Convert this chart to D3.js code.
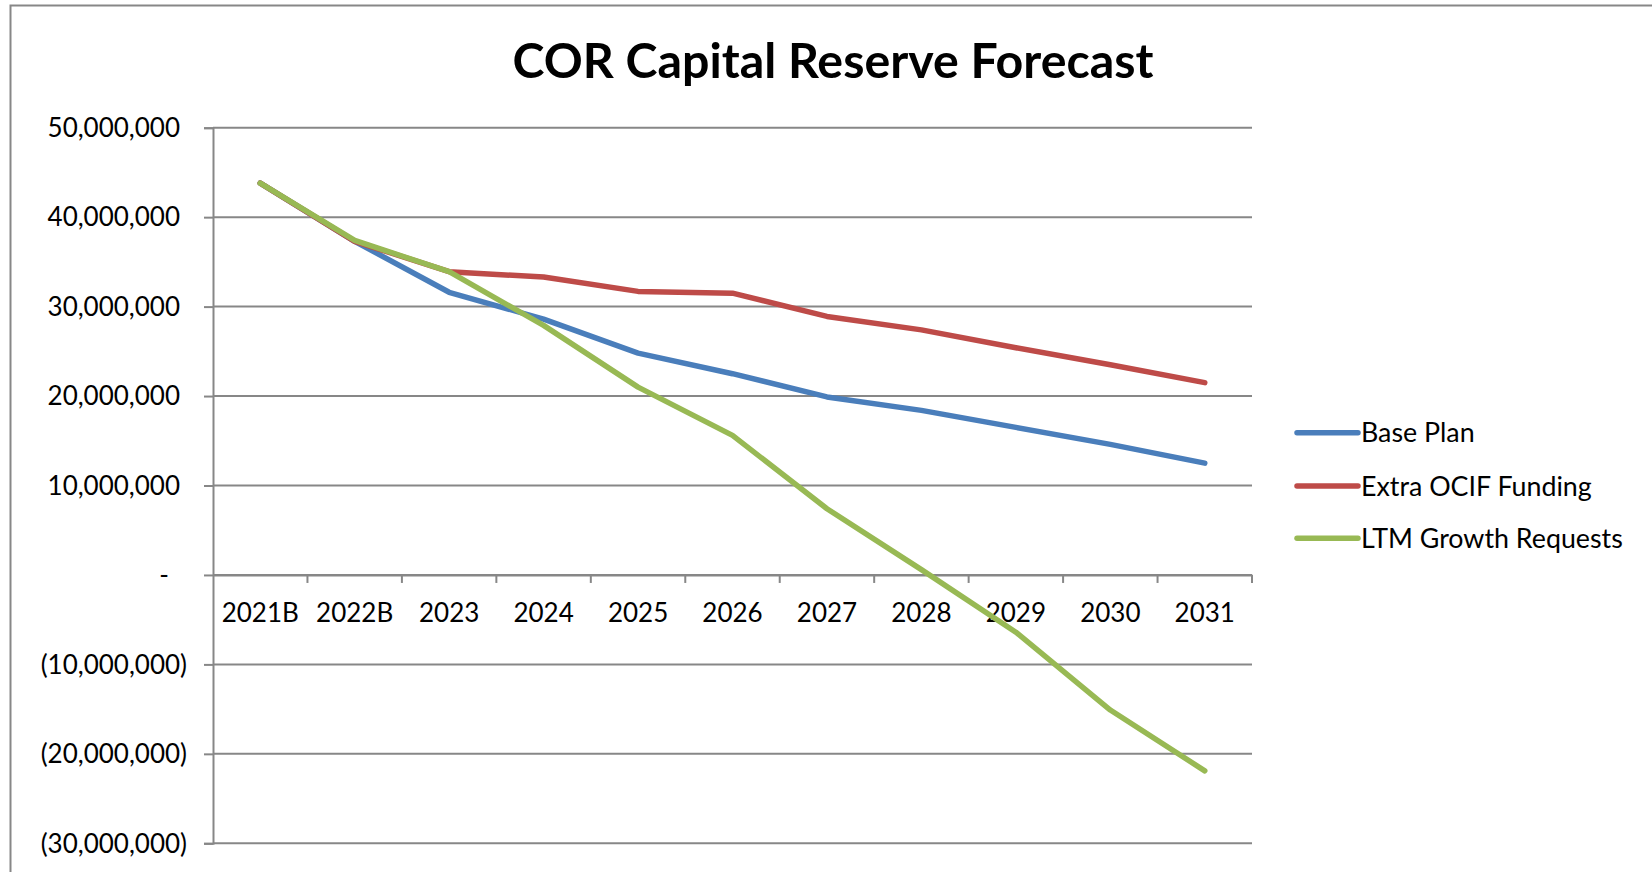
<!DOCTYPE html>
<html>
<head>
<meta charset="utf-8">
<script src="https://cdn.jsdelivr.net/npm/d3@7"></script>
<style>
  html, body { margin: 0; padding: 0; background: #fff; }
  svg { display: block; }
  text { font-family: Lato, "Open Sans", sans-serif; fill: #000; }
</style>
</head>
<body>
<svg id="chart" width="1652" height="872"></svg>
<script>
const title = "COR Capital Reserve Forecast";
const categories = ["2021B", "2022B", "2023", "2024", "2025", "2026", "2027", "2028", "2029", "2030", "2031"];
const seriesNames = ["Base Plan", "Extra OCIF Funding", "LTM Growth Requests"];
const basePlan = [43.8, 37.3, 31.6, 28.6, 24.8, 22.5, 19.9, 18.4, 16.5, 14.6, 12.5].map(v => v * 1e6);
const extraOcif = [43.8, 37.3, 33.9, 33.3, 31.7, 31.5, 28.9, 27.4, 25.4, 23.5, 21.5].map(v => v * 1e6);
const ltmGrowth = [43.8, 37.4, 33.9, 27.9, 21.0, 15.6, 7.4, 0.6, -6.4, -15.1, -21.9].map(v => v * 1e6);
const yTicks = [50e6, 40e6, 30e6, 20e6, 10e6, 0, -10e6, -20e6, -30e6];
const colors = ["#4A7EBB", "#BE4B48", "#98B954"];

const series = [
  { name: seriesNames[0], values: basePlan, color: colors[0] },
  { name: seriesNames[1], values: extraOcif, color: colors[1] },
  { name: seriesNames[2], values: ltmGrowth, color: colors[2] }
];

const svg = d3.select("#chart");
const gridColor = "#878787";

// outer chart frame (top and left edges visible)
svg.append("path")
  .attr("d", "M10.5,1000 L10.5,5.5 L1700,5.5")
  .attr("fill", "none").attr("stroke", gridColor).attr("stroke-width", 2);

const plot = { left: 213, right: 1252, top: 127.7, bottom: 843.3 };

const x = d3.scaleBand().domain(categories).range([plot.left, plot.right]).paddingInner(0).paddingOuter(0);
const y = d3.scaleLinear().domain([-30e6, 50e6]).range([plot.bottom, plot.top]);

// title
svg.append("text")
  .attr("x", 833).attr("y", 78)
  .attr("text-anchor", "middle")
  .style("font-weight", "bold").style("font-size", "48.3px")
  .text(title);

// gridlines
svg.append("g").selectAll("line").data(yTicks).join("line")
  .attr("x1", plot.left).attr("x2", plot.right)
  .attr("y1", d => y(d)).attr("y2", d => y(d))
  .attr("stroke", gridColor).attr("stroke-width", 2);

// y axis
const fmt = d3.format(",");
const yAxis = d3.axisLeft(y).tickValues(yTicks).tickSize(9).tickPadding(0)
  .tickFormat(d => d > 0 ? fmt(d) : d < 0 ? "(" + fmt(-d) + ")" : "-");
const gy = svg.append("g").attr("transform", `translate(${plot.left},0)`).call(yAxis);
gy.select(".domain").attr("stroke", gridColor).attr("stroke-width", 2);
gy.selectAll(".tick line").attr("stroke", gridColor).attr("stroke-width", 2);
gy.selectAll(".tick text")
  .attr("font-size", null)
  .style("font-size", "26px").style("font-family", "Lato, sans-serif").attr("fill", "#000")
  .attr("x", d => d > 0 ? -33 : d < 0 ? -26 : -44)
  .attr("dy", "0.34em");

// x axis at zero
const xAxis = d3.axisBottom(x).tickSize(0).tickPadding(0);
const gx = svg.append("g").attr("transform", `translate(0,${y(0)})`).call(xAxis);
gx.select(".domain").attr("stroke", gridColor).attr("stroke-width", 2);
gx.selectAll(".tick text")
  .style("font-size", "26px").style("font-family", "Lato, sans-serif").attr("fill", "#000")
  .attr("y", 47).attr("dy", 0);
// boundary tick marks
const boundaries = categories.map(c => x(c)).concat([x(categories[categories.length - 1]) + x.bandwidth()]).slice(1);
gx.append("g").selectAll("line").data(boundaries).join("line")
  .attr("x1", d => d).attr("x2", d => d).attr("y1", 0).attr("y2", 8)
  .attr("stroke", gridColor).attr("stroke-width", 2);

// lines
const line = d3.line()
  .x((d, i) => x(categories[i]) + x.bandwidth() / 2)
  .y(d => y(d));
svg.append("g").selectAll("path").data(series).join("path")
  .attr("d", d => line(d.values))
  .attr("fill", "none")
  .attr("stroke", d => d.color)
  .attr("stroke-width", 5.5)
  .attr("stroke-linejoin", "round")
  .attr("stroke-linecap", "round");

// legend
const legendY = [432.7, 486, 538.3];
const lg = svg.append("g").selectAll("g").data(series).join("g")
  .attr("transform", (d, i) => `translate(1297,${legendY[i]})`);
lg.append("line").attr("x1", 0).attr("x2", 61).attr("y1", 0).attr("y2", 0)
  .attr("stroke", d => d.color).attr("stroke-width", 5.5).attr("stroke-linecap", "round");
lg.append("text").attr("x", 64).attr("y", 9.5)
  .style("font-size", "26.8px")
  .text(d => d.name);
</script>
</body>
</html>
